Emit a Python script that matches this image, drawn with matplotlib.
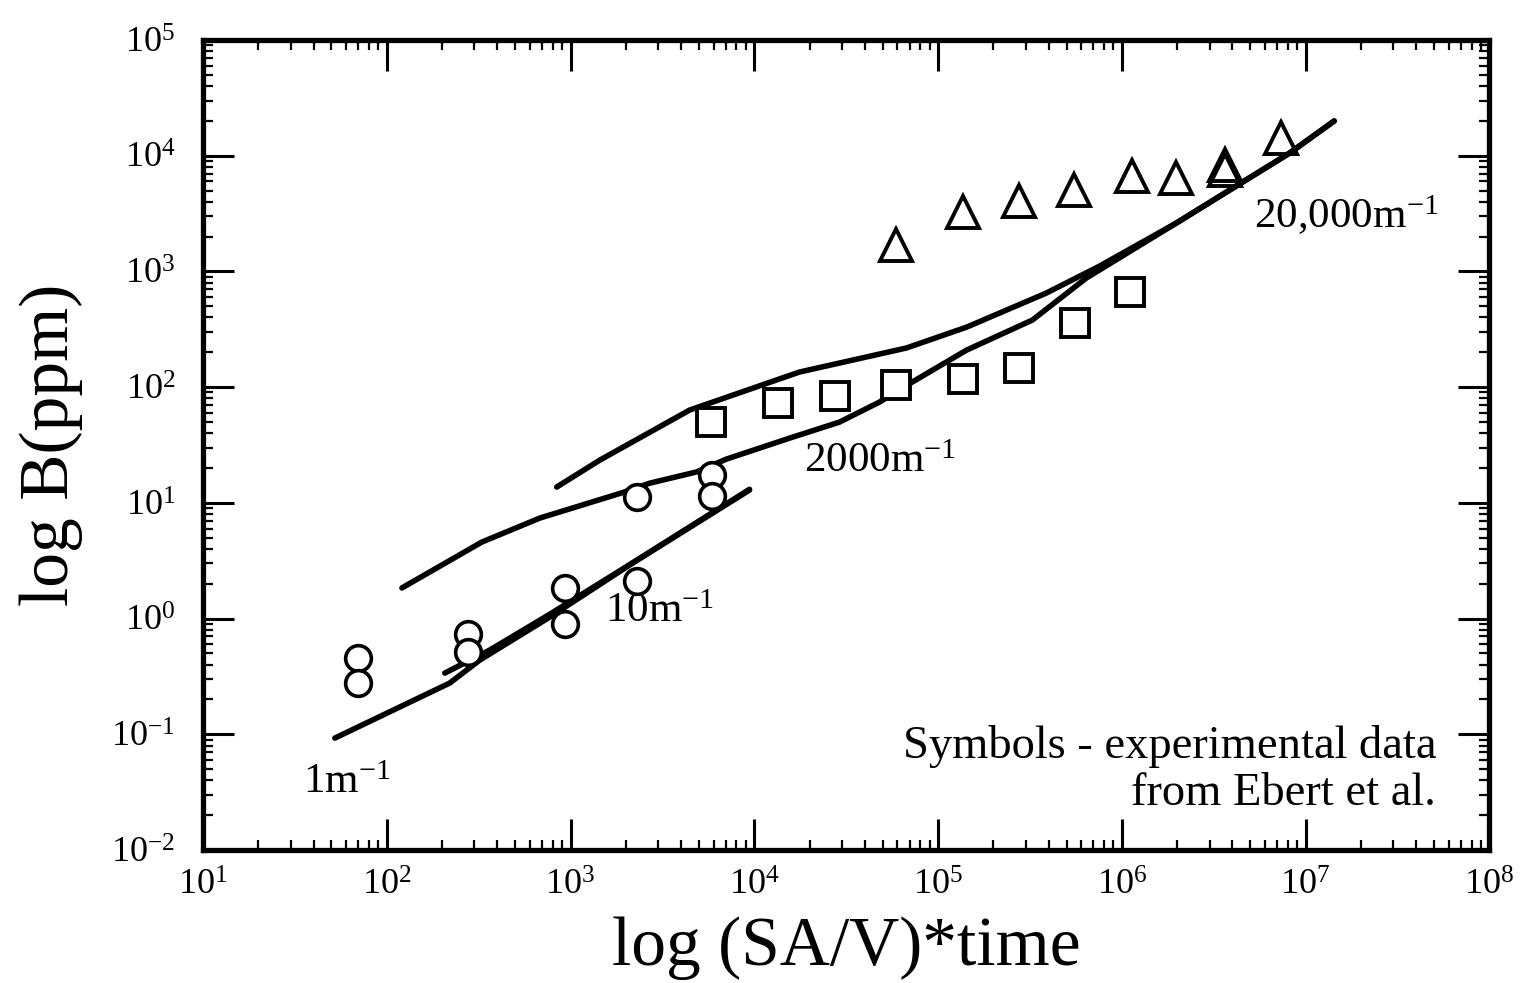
import math
import matplotlib
matplotlib.use("Agg")
import matplotlib.pyplot as plt
from matplotlib.ticker import FixedLocator, LogLocator, FuncFormatter, NullFormatter

plt.rcParams['font.family'] = ['Liberation Serif', 'DejaVu Serif']
plt.rcParams['mathtext.fontset'] = 'custom'
plt.rcParams['mathtext.rm'] = 'Liberation Serif'
plt.rcParams['mathtext.it'] = 'Liberation Serif'

# ---- axis decades ----
x_decades = [1, 2, 3, 4, 5, 6, 7, 8]
y_decades = [-2, -1, 0, 1, 2, 3, 4, 5]

# ---- experimental data (symbols) ----
circle_x = [69.7, 69.7, 276, 276, 929, 929, 2290, 2290, 5860, 5860]
circle_y = [0.46, 0.277, 0.73, 0.51, 1.84, 0.90, 11.2, 2.11, 17.4, 11.5]

square_x = [5780, 13400, 27400, 59400, 137000, 277000, 559000, 1.11e6]
square_y = [49.9, 73, 83.8, 104, 117, 146, 358, 664]

triangle_x = [59400, 136000, 277000, 552000, 1.13e6, 1.98e6, 3.66e6, 3.66e6, 7.36e6]
triangle_y = [1690, 3260, 4060, 5060, 6690, 6410, 7600, 8300, 14200]

# ---- model curves ----
line_1m_x = [52.2, 220, 321, 771, 2180, 9420]
line_1m_y = [0.0927, 0.277, 0.438, 1.03, 3.02, 12.9]

line_10m_x = [207, 364, 771, 2180, 9420]
line_10m_y = [0.338, 0.535, 1.09, 3.04, 13.1]

line_2000m_x = [121, 329, 681, 1900, 2700, 4850, 7060, 15600, 29100, 48000,
                72600, 143000, 326000, 641000, 1.98e6, 8.15e6, 1.43e7]
line_2000m_y = [1.84, 4.58, 7.39, 12.2, 14.8, 18.5, 23.9, 36.3, 49.9, 74.3,
                111, 209, 380, 877, 2620, 10500, 19950]

line_20000m_x = [841, 1443, 4450, 17600, 67300, 143000, 388000, 755000,
                 1.98e6, 8.15e6, 1.43e7]
line_20000m_y = [13.7, 23.4, 63.4, 135, 218, 330, 650, 1110,
                 2620, 10500, 19950]

fig = plt.figure(figsize=(15.26, 9.83), dpi=100)
ax = fig.add_axes([0.133, 0.1353, 0.843, 0.8240])

lw = 4.0
for xs, ys in [(line_1m_x, line_1m_y), (line_10m_x, line_10m_y),
               (line_2000m_x, line_2000m_y), (line_20000m_x, line_20000m_y)]:
    ax.plot(xs, ys, color='black', lw=lw, solid_capstyle='round',
            solid_joinstyle='round', zorder=2)

ax.plot(circle_x, circle_y, linestyle='none', marker='o', ms=18.5, mfc='white',
        mec='black', mew=2.6, zorder=3)
ax.plot(square_x, square_y, linestyle='none', marker='s', ms=20.5, mfc='white',
        mec='black', mew=2.8, zorder=3)
ax.plot(triangle_x, triangle_y, linestyle='none', marker='^', ms=23, mfc='none',
        mec='black', mew=2.8, zorder=3)

ax.set_xscale('log')
ax.set_yscale('log')
ax.set_xlim(10.0 ** x_decades[0], 10.0 ** x_decades[-1])
ax.set_ylim(10.0 ** y_decades[0], 10.0 ** y_decades[-1])

fmt = FuncFormatter(lambda v, p: r'$\mathregular{10^{%d}}$' % round(math.log10(v)))
ax.xaxis.set_major_locator(FixedLocator([10.0 ** k for k in x_decades]))
ax.yaxis.set_major_locator(FixedLocator([10.0 ** k for k in y_decades]))
for axis in (ax.xaxis, ax.yaxis):
    axis.set_minor_locator(LogLocator(base=10, subs=range(2, 10), numticks=20))
    axis.set_major_formatter(fmt)
    axis.set_minor_formatter(NullFormatter())

ax.tick_params(which='major', direction='in', length=22, width=2.2,
               top=True, right=True, labelsize=26, pad=14)
ax.tick_params(which='minor', direction='in', length=7, width=1.6,
               top=True, right=True)
ax.tick_params(axis='y', which='major', pad=20)
for s in ax.spines.values():
    s.set_linewidth(3.8)

ax.set_xlabel('log (SA/V)*time', fontsize=50, labelpad=10)
ax.set_ylabel('log B(ppm)', fontsize=50, labelpad=20)

lab = 31
ax.text(35, 0.031, r'$\mathregular{1m^{-1}}$', fontsize=lab, ha='left', va='baseline')
ax.text(1535, 0.933, r'$\mathregular{10m^{-1}}$', fontsize=lab, ha='left', va='baseline')
ax.text(18700, 18.5, r'$\mathregular{2000m^{-1}}$', fontsize=lab, ha='left', va='baseline')
ax.text(5.25e6, 2370, r'$\mathregular{20{,}000m^{-1}}$', fontsize=lab, ha='left', va='baseline')

ax.text(5.13e7, 0.0622, 'Symbols - experimental data', fontsize=33.5, ha='right', va='baseline')
ax.text(5.13e7, 0.0244, 'from Ebert et al.', fontsize=33.5, ha='right', va='baseline')

fig.savefig('out.png', dpi=100)
